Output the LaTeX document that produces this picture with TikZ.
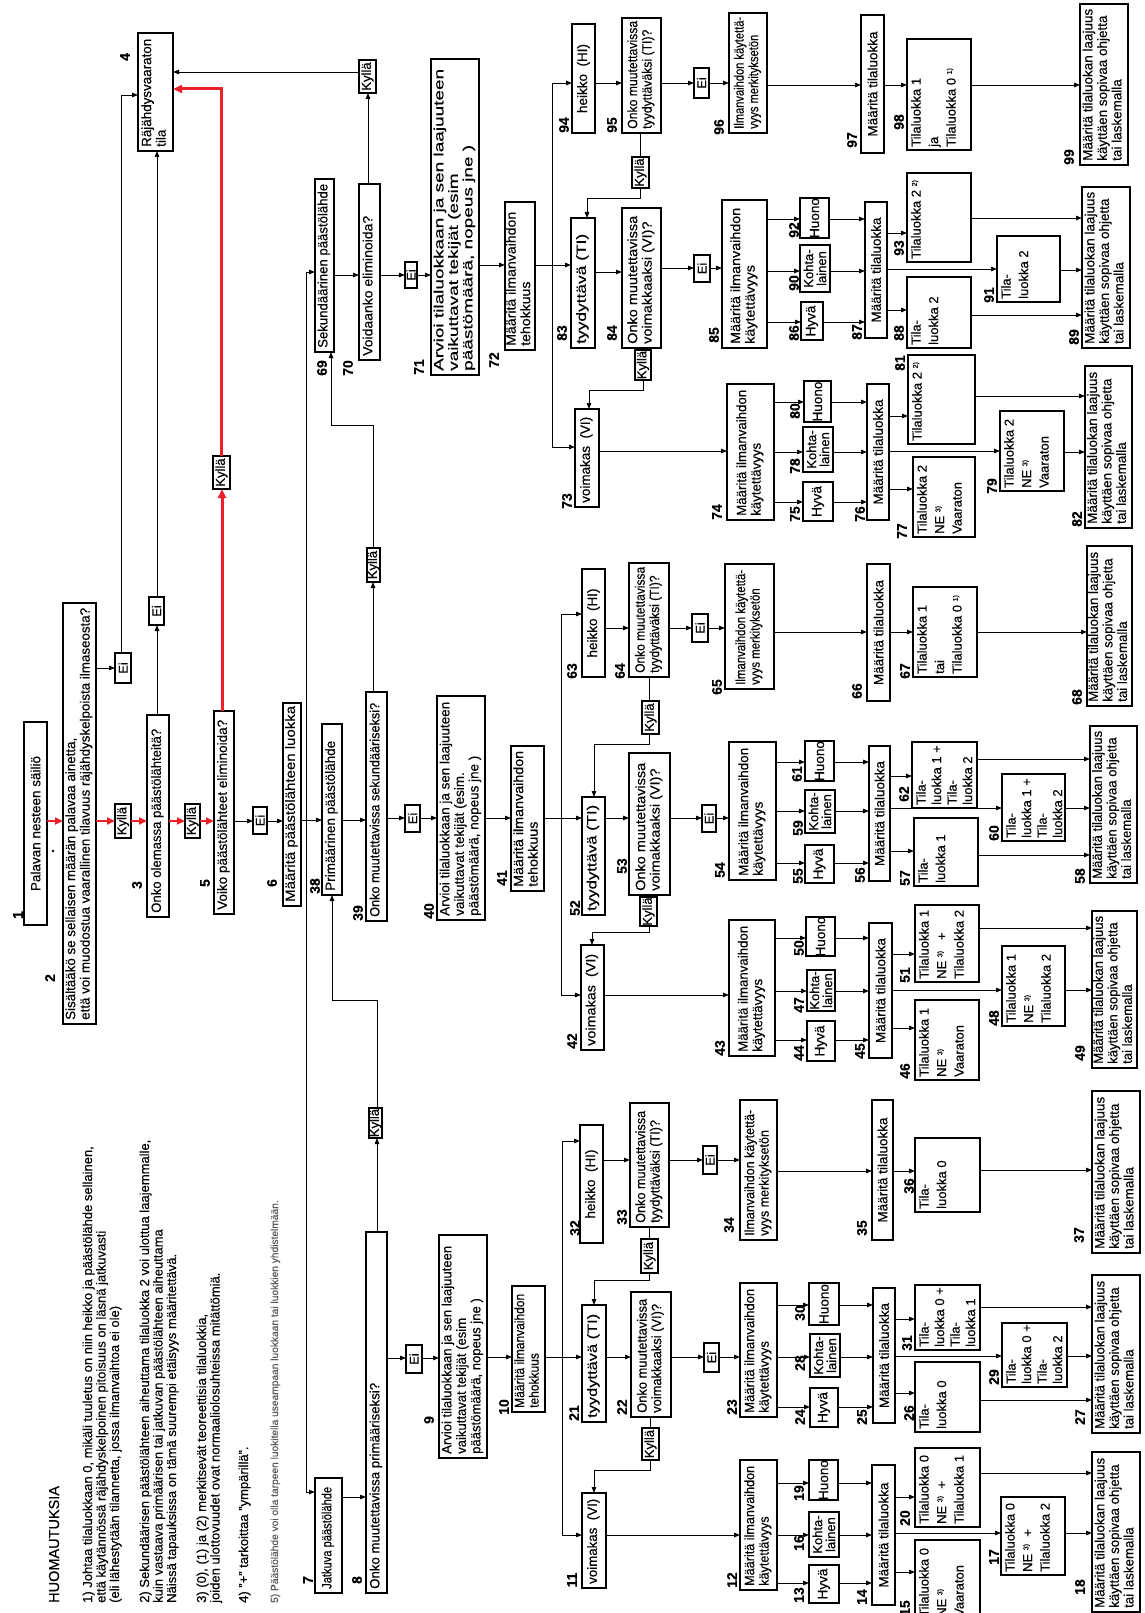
\documentclass[tikz,border=0pt]{standalone}
\usepackage{fontspec}
\usepackage{graphicx}
\setmainfont{Liberation Sans}[FakeBold=0.3]
\usetikzlibrary{arrows.meta}
\definecolor{rd}{RGB}{236,32,40}
\definecolor{notegray}{RGB}{90,90,90}
\newcommand{\supr}[1]{\raisebox{0.55ex}{\fontsize{7}{7}\selectfont #1}}
\newcommand{\curbox}{}
\newsavebox{\fitbox}
\newcommand{\fitt}[2]{\sbox{\fitbox}{\begin{tabular}{@{}l@{}}#2\end{tabular}}\resizebox{#1pt}{\height}{\usebox{\fitbox}}}
\newcommand{\zLaaj}{Määritä tilaluokan laajuus\\käyttäen sopivaa ohjetta\\tai laskemalla}
\newcommand{\zArv}[1]{Arvioi tilaluokkaan ja sen laajuuteen\\vaikuttavat tekijät (esim#1\\päästömäärä, nopeus jne )}
\newcommand{\zMie}{Määritä ilmanvaihdon\\tehokkuus}
\newcommand{\zMil}{Määritä ilmanvaihdon\\käytettävyys}
\newcommand{\zIvk}{Ilmanvaihdon käytettä-\\vyys merkityksetön}
\newcommand{\zOmt}{Onko muutettavissa\\tyydyttäväksi (TI)?}
\newcommand{\zOmv}{Onko muutettavissa\\voimakkaaksi (VI)?}
\newcommand{\zMt}{Määritä tilaluokka}
\tikzset{
  box/.style={draw, line width=1.1pt, rotate=90, inner sep=0pt, outer sep=0pt},
  btxt/.style={rotate=90, inner xsep=3pt, inner ysep=1.5pt, align=left,
     font=\fontsize{13.5}{14.5}\selectfont, at=(\curbox.west), anchor=west},
  c/.style={at=(\curbox.center), anchor=center, align=center},
  tl/.style={at=(\curbox.north west), anchor=north west, inner ysep=4pt,
     font=\fontsize{13}{17.5}\selectfont},
  tlf/.style={tl, font=\fontsize{13}{15.5}\selectfont},
  kf/.style={font=\fontsize{13}{13}\selectfont, inner sep=0pt},
  kl/.style={font=\fontsize{13}{13}\selectfont},
  lbl/.style={rotate=90, font=\bfseries\fontsize{14}{14}\selectfont, inner sep=0pt},
  note/.style={rotate=90, anchor=base west, inner sep=0pt, font=\fontsize{13}{14}\selectfont},
  arr/.style={draw, line width=0.9pt, -{Triangle[length=6pt,width=4.5pt]}},
  ln/.style={draw, line width=0.9pt},
  rarr/.style={draw=rd, line width=2pt, -{Triangle[length=8pt,width=7pt]}},
  rarr2/.style={draw=rd, line width=3pt, -{Triangle[length=9pt,width=8pt]}},
}
% box with natural text
\newcommand{\bx}[7][]{%
  \node[box, minimum width={(#6)-(#4)}, minimum height={(#5)-(#3)}] (#2) at ({((#3)+(#5))/2},{((#4)+(#6))/2}) {};
  \renewcommand{\curbox}{#2}%
  \node[btxt,#1] (#2t) {#7};}
% box with text stretched to a given length
\newcommand{\bxf}[8][]{%
  \node[box, minimum width={(#6)-(#4)}, minimum height={(#5)-(#3)}] (#2) at ({((#3)+(#5))/2},{((#4)+(#6))/2}) {};
  \renewcommand{\curbox}{#2}%
  \node[btxt,inner xsep=4pt,#1] (#2t) {\fitt{#7}{#8}};}
\newcommand{\lb}[3]{\node[lbl] (n#1) at (#2,#3) {#1};}
\newcommand{\hc}[4][]{\draw[arr,#1] (#2.south |- 0,#4) -- (#3.north |- 0,#4);}
\newcommand{\vc}[4][]{\draw[arr,#1] (#2.east -| #4,0) -- (#3.west -| #4,0);}
\begin{document}
\begin{tikzpicture}[x=1pt,y=-1pt]
\useasboundingbox (0,0) rectangle (1144,1613);
\fill[white] (0,0) rectangle (1144,1613);

% ---------- notes
\node[note, font=\fontsize{14.5}{15}\selectfont] (h0) at (59,1603) {HUOMAUTUKSIA};
\node[note] (h1) at (92,1603) {1) Johtaa tilaluokkaan 0, mikäli tuuletus on niin heikko ja päästölähde sellainen,};
\node[note] (h2) at (105.5,1603) {että käytännössä räjähdyskelpoinen pitoisuus on läsnä jatkuvasti};
\node[note] (h3) at (119,1603) {(eli lähestytään tilannetta, jossa ilmanvaihtoa ei ole)};
\node[note] (h4) at (149,1603) {2) Sekundäärisen päästölähteen aiheuttama tilaluokka 2 voi ulottua laajemmalle,};
\node[note] (h5) at (162.5,1603) {kuin vastaava primäärisen tai jatkuvan päästölähteen aiheuttama};
\node[note] (h6) at (176,1603) {Näissä tapauksissa on tämä suurempi etäisyys määritettävä.};
\node[note] (h7) at (206,1603) {3) (0), (1) ja (2) merkitsevät teoreettisia tilaluokkia,};
\node[note] (h8) at (219.5,1603) {joiden ulottovuudet ovat normaaliolosuhteissa mitättömiä.};
\node[note] (h9) at (248,1603) {4) "+" tarkoittaa "ympärillä".};
\node[note, text=notegray, font=\fontsize{10.2}{12}\selectfont] (h10) at (278,1603) {5) Päästölähde voi olla tarpeen luokitella useampaan luokkaan tai luokkien yhdistelmään.};

% ---------- first column
\bx[c]{b1}{24}{722}{47}{925}{Palavan nesteen säiliö}
\bxf{b2}{63}{603}{96}{1024}{412}{Sisältääkö se sellaisen määrän palavaa ainetta,\\että voi muodostua vaarallinen tilavuus räjähdyskelpoista ilmaseosta?}
\bx[c,kf]{k2}{115}{804}{131}{838}{Kyllä}
\bxf{b3}{147}{715}{169}{917}{184}{Onko olemassa päästölähteitä?}
\bx[c,kf]{k3}{185}{804}{200}{838}{Kyllä}
\bxf{b5}{214}{711}{234}{914}{190}{Voiko päästölähteet eliminoida?}
\bx[c,kf]{e5}{253}{807}{267}{834}{Ei}
\bxf{b6}{283}{703}{301}{906}{196}{Määritä päästölähteen luokka}
\bxf{b4}{138}{33}{173}{151}{108}{Räjähdysvaaraton\\tila}
\bx[c,kf]{e2}{115}{653}{131}{683}{Ei}
\bx[c,kf]{e3}{149}{597}{164}{625}{Ei}
\bx[c,kf]{k5}{213}{456}{230}{489}{Kyllä}
\fill (53,851) circle[radius=1.3pt];

% ---------- second column
\bxf{b69}{315}{179}{334}{352}{164}{Sekundäärinen päästölähde}
\bxf{b70}{359}{184}{380}{360}{140}{Voidaanko eliminoida?}
\bx[c,kf]{k70}{359}{60}{376}{93}{Kyllä}
\bx[c,kf]{e70}{405}{262}{417}{288}{Ei}
\bxf{b38}{322}{724}{342}{895}{150}{Primäärinen päästölähde}
\bxf{b39}{366}{692}{387}{921}{214}{Onko muutettavissa sekundääriseksi?}
\bx[c,kf]{k39}{367}{548}{380}{582}{Kyllä}
\bx[c,kf]{e39}{405}{805}{420}{832}{Ei}
\bxf{b7}{315}{1478}{342}{1593}{102}{Jatkuva päästölähde}
\bxf{b8}{366}{1232}{387}{1593}{206}{Onko muutettavissa primääriseksi?}
\bx[c,kf]{k8}{369}{1108}{382}{1138}{Kyllä}
\bx[c,kf]{e8}{406}{1345}{422}{1373}{Ei}

\bxf{b71}{431}{59}{479}{375}{302}{\zArv{}}
\bxf{b40}{437}{696}{485}{920}{214}{\zArv{.}}
\bxf{b9}{439}{1235}{487}{1458}{208}{\zArv{}}
\bxf{b72}{505}{202}{535}{350}{134}{\zMie}
\bxf{b41}{511}{746}{544}{891}{136}{\zMie}
\bxf{b10}{512}{1286}{545}{1412}{114}{\zMie}

% ---------- top block
\bx[c]{b94}{572}{24}{595}{133}{heikko~~(HI)}
\bxf{b95}{622}{18}{661}{133}{108}{\zOmt}
\bx[c,kf]{e95}{694}{68}{709}{98}{Ei}
\bxf{b96}{729}{13}{767}{133}{112}{\zIvk}
\bx[c]{b97}{861}{15}{884}{153}{\zMt}
\bx[tl]{b98}{907}{39}{971}{150}{Tilaluokka 1\\ja\\Tilaluokka 0 \supr{1)}}
\bxf{b99}{1080}{4}{1128}{165}{152}{\zLaaj}
\bx[c,kf]{k95}{632}{157}{649}{188}{Kyllä}
\bxf{b83}{571}{218}{595}{348}{110}{tyydyttävä (TI)}
\bxf{b84}{622}{208}{661}{348}{128}{\zOmv}
\bx[c,kf]{e84}{694}{255}{710}{282}{Ei}
\bxf{b85}{722}{200}{767}{348}{136}{\zMil}
\bx[c]{b86}{801}{302}{823}{340}{Hyvä}
\bx[c,kl]{b90}{800}{245}{830}{292}{Kohta-\\lainen}
\bx[c]{b92}{800}{198}{829}{238}{Huono}
\bx[c]{b87}{865}{202}{887}{338}{\zMt}
\bx[tl]{b88}{907}{277}{971}{348}{Tila-\\luokka 2}
\bx[tl]{b91}{997}{236}{1060}{302}{Tila-\\luokka 2}
\bx[tl]{b93}{907}{173}{971}{262}{Tilaluokka 2 \supr{2)}}
\bxf{b89}{1082}{187}{1130}{348}{152}{\zLaaj}
\bx[c,kf]{k84}{635}{350}{651}{380}{Kyllä}
\bxf{b73}{575}{409}{599}{507}{86}{voimakas~~(VI)}
\bxf{b74}{727}{384}{774}{520}{126}{\zMil}
\bx[c]{b75}{803}{482}{833}{521}{Hyvä}
\bx[c,kl]{b78}{803}{427}{833}{472}{Kohta-\\lainen}
\bx[c]{b80}{804}{381}{831}{422}{Huono}
\bx[c]{b76}{867}{384}{889}{520}{\zMt}
\bx[tl]{b77}{913}{457}{975}{537}{Tilaluokka 2\\NE \supr{3)}\\Vaaraton}
\bx[tl]{b79}{1000}{411}{1064}{491}{Tilaluokka 2\\NE \supr{3)}\\Vaaraton}
\bx[tl]{b81}{908}{355}{975}{444}{Tilaluokka 2 \supr{2)}}
\bxf{b82}{1085}{366}{1132}{528}{152}{\zLaaj}

% ---------- middle block
\bx[c]{b63}{582}{569}{605}{677}{heikko~~(HI)}
\bxf{b64}{629}{563}{669}{677}{106}{\zOmt}
\bx[c,kf]{e64}{692}{614}{708}{642}{Ei}
\bxf{b65}{725}{564}{774}{689}{115}{\zIvk}
\bx[c]{b66}{867}{564}{890}{701}{\zMt}
\bx[tl]{b67}{913}{587}{977}{677}{Tilaluokka 1\\tai\\Tilaluokka 0 \supr{1)}}
\bxf{b68}{1087}{546}{1132}{706}{150}{\zLaaj}
\bx[c,kf]{k64}{642}{701}{659}{734}{Kyllä}
\bxf{b52}{582}{797}{605}{915}{106}{tyydyttävä (TI)}
\bxf{b53}{629}{753}{670}{895}{128}{\zOmv}
\bx[c,kf]{e53}{702}{805}{716}{832}{Ei}
\bxf{b54}{729}{742}{776}{880}{128}{\zMil}
\bx[c]{b61}{805}{741}{834}{781}{Huono}
\bx[c,kl]{b59}{805}{790}{835}{833}{Kohta-\\lainen}
\bx[c]{b55}{805}{845}{834}{883}{Hyvä}
\bx[c]{b56}{869}{746}{890}{881}{\zMt}
\bx[tlf]{b62}{912}{742}{977}{808}{Tila-\\luokka 1 +\\Tila-\\luokka 2}
\bx[tlf]{b60}{1002}{774}{1065}{841}{Tila-\\luokka 1 +\\Tila-\\luokka 2}
\bx[tl]{b57}{914}{818}{978}{886}{Tila-\\luokka 1}
\bxf{b58}{1090}{726}{1137}{883}{148}{\zLaaj}
\bx[c,kf]{k53}{640}{897}{657}{926}{Kyllä}
\bxf{b42}{581}{945}{604}{1050}{92}{voimakas~~(VI)}
\bxf{b43}{729}{920}{775}{1056}{126}{\zMil}
\bx[c]{b50}{806}{917}{835}{956}{Huono}
\bx[c,kl]{b47}{807}{970}{835}{1011}{Kohta-\\lainen}
\bx[c]{b44}{807}{1021}{835}{1061}{Hyvä}
\bx[c]{b45}{869}{923}{892}{1058}{\zMt}
\bx[tl]{b51}{915}{905}{979}{982}{Tilaluokka 1\\NE \supr{3)}~~~+\\Tilaluokka 2}
\bx[tl]{b48}{1002}{946}{1065}{1026}{Tilaluokka 1\\NE \supr{3)}\\Tilaluokka 2}
\bx[tl]{b46}{915}{1000}{979}{1080}{Tilaluokka 1\\NE \supr{3)}\\Vaaraton}
\bxf{b49}{1092}{911}{1137}{1068}{148}{\zLaaj}

% ---------- bottom block
\bx[c]{b32}{580}{1125}{603}{1243}{heikko~~(HI)}
\bxf{b33}{630}{1103}{669}{1227}{112}{\zOmt}
\bx[c,kf]{e33}{703}{1146}{717}{1174}{Ei}
\bxf{b34}{740}{1100}{777}{1240}{126}{\zIvk}
\bx[c]{b35}{872}{1100}{893}{1240}{\zMt}
\bx[tl]{b36}{915}{1138}{980}{1212}{Tila-\\luokka 0}
\bxf{b37}{1092}{1091}{1140}{1253}{152}{\zLaaj}
\bx[c,kf]{k33}{641}{1239}{658}{1273}{Kyllä}
\bxf{b21}{582}{1305}{606}{1422}{104}{tyydyttävä (TI)}
\bxf{b22}{631}{1292}{671}{1417}{114}{\zOmv}
\bx[c,kf]{e22}{704}{1343}{719}{1372}{Ei}
\bxf{b23}{740}{1283}{777}{1417}{124}{\zMil}
\bx[c]{b30}{809}{1283}{839}{1325}{Huono}
\bx[c,kl]{b28}{810}{1334}{840}{1377}{Kohta-\\lainen}
\bx[c]{b24}{810}{1388}{838}{1427}{Hyvä}
\bx[c]{b25}{873}{1288}{895}{1423}{\zMt}
\bx[tlf]{b31}{915}{1285}{980}{1350}{Tila-\\luokka 0 +\\Tila-\\luokka 1}
\bx[tlf]{b29}{1002}{1323}{1067}{1387}{Tila-\\luokka 0 +\\Tila-\\luokka 2}
\bx[tl]{b26}{915}{1362}{980}{1432}{Tila-\\luokka 0}
\bxf{b27}{1092}{1275}{1140}{1433}{148}{\zLaaj}
\bx[c,kf]{k22}{642}{1428}{659}{1460}{Kyllä}
\bxf{b11}{582}{1493}{606}{1588}{85}{voimakas~~(VI)}
\bxf{b12}{740}{1460}{777}{1590}{120}{\zMil}
\bx[c]{b19}{809}{1460}{838}{1500}{Huono}
\bx[c,kl]{b16}{809}{1512}{839}{1557}{Kohta-\\lainen}
\bx[c]{b13}{809}{1565}{839}{1603}{Hyvä}
\bx[c]{b14}{872}{1465}{895}{1605}{\zMt}
\bx[tl]{b20}{915}{1448}{980}{1527}{Tilaluokka 0\\NE \supr{3)}~~+\\Tilaluokka 1}
\bx[tl]{b17}{1001}{1497}{1065}{1575}{Tilaluokka 0\\NE \supr{3)}~~+\\Tilaluokka 2}
\bx[tl]{b15}{915}{1540}{980}{1620}{Tilaluokka 0\\NE \supr{3)}\\Vaaraton}
\bxf{b18}{1092}{1452}{1140}{1612}{150}{\zLaaj}

% ---------- labels
\lb{1}{18}{915}\lb{2}{50}{978}\lb{3}{137}{885}\lb{4}{125}{57}\lb{5}{205}{883}\lb{6}{272}{883}
\lb{7}{308}{1580}\lb{8}{357}{1580}\lb{9}{429}{1420}\lb{10}{504}{1407}
\lb{11}{572}{1580}\lb{12}{732}{1580}\lb{13}{799}{1595}\lb{14}{862}{1597}\lb{15}{905}{1608}
\lb{16}{799}{1543}\lb{17}{994}{1557}\lb{18}{1080}{1587}\lb{19}{799}{1493}\lb{20}{905}{1518}
\lb{21}{574}{1413}\lb{22}{622}{1407}\lb{23}{732}{1407}\lb{24}{800}{1417}\lb{25}{862}{1417}
\lb{26}{909}{1413}\lb{27}{1080}{1417}\lb{28}{800}{1363}\lb{29}{994}{1377}\lb{30}{800}{1313}
\lb{31}{907}{1343}\lb{32}{575}{1228}\lb{33}{622}{1217}\lb{34}{729}{1225}\lb{35}{862}{1228}
\lb{36}{909}{1186}\lb{37}{1079}{1235}\lb{38}{315}{886}\lb{39}{358}{913}\lb{40}{429}{911}
\lb{41}{502}{878}\lb{42}{572}{1041}\lb{43}{720}{1048}\lb{44}{799}{1053}\lb{45}{860}{1051}
\lb{46}{905}{1071}\lb{47}{799}{1005}\lb{48}{994}{1018}\lb{49}{1080}{1053}\lb{50}{799}{948}
\lb{51}{905}{975}\lb{52}{575}{908}\lb{53}{622}{866}\lb{54}{720}{870}\lb{55}{798}{876}
\lb{56}{860}{875}\lb{57}{905}{878}\lb{58}{1080}{876}\lb{59}{798}{828}\lb{60}{994}{833}
\lb{61}{797}{774}\lb{62}{904}{794}\lb{63}{572}{671}\lb{64}{620}{671}\lb{65}{717}{687}
\lb{66}{857}{691}\lb{67}{905}{671}\lb{68}{1077}{697}\lb{69}{322}{368}\lb{70}{348}{368}
\lb{71}{419}{367}\lb{72}{494}{360}\lb{73}{567}{501}\lb{74}{717}{512}\lb{75}{795}{514}
\lb{76}{860}{514}\lb{77}{902}{531}\lb{78}{795}{466}\lb{79}{992}{486}\lb{80}{795}{411}
\lb{81}{900}{363}\lb{82}{1077}{519}\lb{83}{562}{333}\lb{84}{612}{333}\lb{85}{714}{335}
\lb{86}{794}{333}\lb{87}{857}{332}\lb{88}{899}{333}\lb{89}{1074}{337}\lb{90}{794}{283}
\lb{91}{989}{295}\lb{92}{794}{230}\lb{93}{899}{248}\lb{94}{564}{125}\lb{95}{612}{125}
\lb{96}{719}{127}\lb{97}{852}{140}\lb{98}{899}{122}\lb{99}{1069}{157}

% ---------- connectors: first column
\hc[rarr]{b1}{b2}{821}
\hc[rarr]{b2}{k2}{821}
\hc[rarr]{k2}{b3}{821}
\hc[rarr]{b3}{k3}{821}
\hc[rarr]{k3}{b5}{821}
\hc{b5}{e5}{821}
\hc{e5}{b6}{821}
\hc{b6}{b38}{820}
\hc{b2}{e2}{668}
\draw[arr] (e2.east -| 121,0) |- (b4.north |- 0,95);
\vc{b3}{e3}{157}
\vc{e3}{b4}{157}
\vc[rarr2]{b5}{k5}{222}
\draw[rarr2] (k5.east -| 221,0) |- (b4.south |- 0,89);
\vc{b70}{k70}{368}
\draw[arr] (k70.north |- 0,72) -- (b4.south |- 0,72);

% bus
\coordinate (busT) at (306,272);
\coordinate (busB) at (306,1492);
\draw[arr] (busT) -- (b69.north |- busT);
\draw[arr] (busT) -- (busB) -- (b7.north |- busB);

% ---------- top block connectors
\hc{b69}{b70}{275}
\hc{b70}{e70}{275}
\hc{e70}{b71}{275}
\hc{b71}{b72}{265}
\coordinate (tbT) at (552,83);
\coordinate (tbM) at (552,265);
\coordinate (tbB) at (552,447);
\draw[ln] (b72.south |- tbM) -- (tbM);
\draw[ln] (tbT) -- (tbB);
\draw[arr] (tbT) -- (b94.north |- tbT);
\draw[arr] (tbM) -- (b83.north |- tbM);
\draw[arr] (tbB) -- (b73.north |- tbB);
\hc{b94}{b95}{83}
\hc{b95}{e95}{83}
\hc{e95}{b96}{83}
\hc{b96}{b97}{85}
\hc{b97}{b98}{85}
\hc{b98}{b99}{85}
\draw[ln] (b95.west -| 640,0) -- (k95.east -| 640,0);
\draw[arr] (k95.west -| 640,0) |- (587,198) -- (b83.east -| 587,0);
\hc{b83}{b84}{272}
\hc{b84}{e84}{268}
\hc{e84}{b85}{268}
\draw[ln] (b84.west -| 643,0) -- (k84.east -| 643,0);
\draw[arr] (k84.west -| 643,0) |- (589,390) -- (b73.east -| 589,0);
\hc{b85}{b86}{322}\hc{b85}{b90}{271}\hc{b85}{b92}{219}
\hc{b86}{b87}{322}\hc{b90}{b87}{271}\hc{b92}{b87}{219}
\hc{b87}{b88}{310}\hc{b87}{b91}{269}\hc{b87}{b93}{233}
\hc{b88}{b89}{315}\hc{b91}{b89}{270}\hc{b93}{b89}{218}
\hc{b73}{b74}{451}
\hc{b74}{b75}{502}\hc{b74}{b78}{452}\hc{b74}{b80}{402}
\hc{b75}{b76}{502}\hc{b78}{b76}{452}\hc{b80}{b76}{402}
\hc{b76}{b77}{489}\hc{b76}{b79}{451}\hc{b76}{b81}{416}
\hc{b79}{b82}{452}\hc{b81}{b82}{396}

% ---------- middle block connectors
\hc{b38}{b39}{820}
\vc{b39}{k39}{373}
\draw[arr] (k39.east -| 373,0) |- (331,425) -- (b69.west -| 331,0);
\hc{b39}{e39}{818}\hc{e39}{b40}{818}\hc{b40}{b41}{818}
\coordinate (mbT) at (561,614);
\coordinate (mbM) at (561,818);
\coordinate (mbB) at (561,995);
\draw[ln] (b41.south |- mbM) -- (mbM);
\draw[ln] (mbT) -- (mbB);
\draw[arr] (mbT) -- (b63.north |- mbT);
\draw[arr] (mbM) -- (b52.north |- mbM);
\draw[arr] (mbB) -- (b42.north |- mbB);
\hc{b63}{b64}{628}\hc{b64}{e64}{628}\hc{e64}{b65}{628}
\hc{b65}{b66}{632}\hc{b66}{b67}{632}\hc{b67}{b68}{632}
\draw[ln] (b64.west -| 649,0) -- (k64.east -| 649,0);
\draw[arr] (k64.west -| 649,0) |- (594,744) -- (b52.east -| 594,0);
\hc{b52}{b53}{818}\hc{b53}{e53}{818}\hc{e53}{b54}{818}
\draw[ln] (b53.west -| 649,0) -- (k53.east -| 649,0);
\draw[arr] (k53.west -| 649,0) |- (592,932) -- (b42.east -| 592,0);
\hc{b54}{b61}{762}\hc{b54}{b59}{811}\hc{b54}{b55}{863}
\hc{b61}{b56}{762}\hc{b59}{b56}{811}\hc{b55}{b56}{863}
\hc{b56}{b62}{776}\hc{b56}{b60}{808}\hc{b56}{b57}{851}
\hc{b62}{b58}{759}\hc{b60}{b58}{808}\hc{b57}{b58}{855}
\hc{b42}{b43}{995}
\hc{b43}{b50}{938}\hc{b43}{b47}{991}\hc{b43}{b44}{1040}
\hc{b50}{b45}{938}\hc{b47}{b45}{991}\hc{b44}{b45}{1040}
\hc{b45}{b51}{954}\hc{b45}{b48}{990}\hc{b45}{b46}{1028}
\hc{b51}{b49}{928}\hc{b48}{b49}{990}

% ---------- bottom block connectors
\hc{b7}{b8}{1497}
\vc{b8}{k8}{377}
\draw[arr] (k8.east -| 377,0) |- (332,1000) -- (b38.west -| 332,0);
\hc{b8}{e8}{1358}\hc{e8}{b9}{1358}\hc{b9}{b10}{1357}
\coordinate (bbT) at (562,1141);
\coordinate (bbM) at (562,1357);
\coordinate (bbB) at (562,1535);
\draw[ln] (b10.south |- bbM) -- (bbM);
\draw[ln] (bbT) -- (bbB);
\draw[arr] (bbT) -- (b32.north |- bbT);
\draw[arr] (bbM) -- (b21.north |- bbM);
\draw[arr] (bbB) -- (b11.north |- bbB);
\hc{b32}{b33}{1160}\hc{b33}{e33}{1160}\hc{e33}{b34}{1160}
\hc{b34}{b35}{1171}\hc{b35}{b36}{1171}\hc{b36}{b37}{1170}
\draw[ln] (b33.west -| 649,0) -- (k33.east -| 649,0);
\draw[arr] (k33.west -| 649,0) |- (594,1280) -- (b21.east -| 594,0);
\hc{b21}{b22}{1357}\hc{b22}{e22}{1357}\hc{e22}{b23}{1357}
\draw[ln] (b22.west -| 650,0) -- (k22.east -| 650,0);
\draw[arr] (k22.west -| 650,0) |- (594,1470) -- (b11.east -| 594,0);
\hc{b23}{b30}{1305}\hc{b23}{b28}{1357}\hc{b23}{b24}{1407}
\hc{b30}{b25}{1305}\hc{b28}{b25}{1357}\hc{b24}{b25}{1407}
\hc{b25}{b31}{1319}\hc{b25}{b29}{1356}\hc{b25}{b26}{1393}
\hc{b31}{b27}{1307}\hc{b29}{b27}{1356}\hc{b26}{b27}{1400}
\hc{b11}{b12}{1535}
\hc{b12}{b19}{1483}\hc{b12}{b16}{1535}\hc{b12}{b13}{1583}
\hc{b19}{b14}{1483}\hc{b16}{b14}{1535}\hc{b13}{b14}{1583}
\hc{b14}{b20}{1497}\hc{b14}{b17}{1533}\hc{b14}{b15}{1572}
\hc{b20}{b18}{1473}\hc{b17}{b18}{1533}
\end{tikzpicture}
\end{document}
